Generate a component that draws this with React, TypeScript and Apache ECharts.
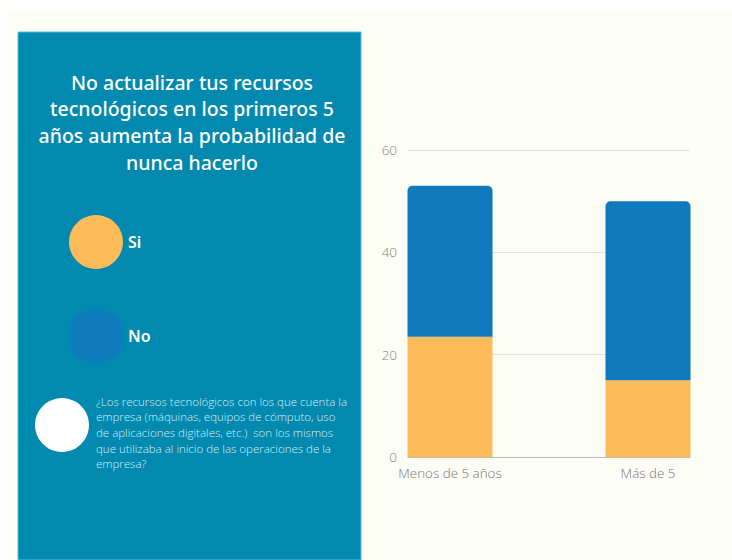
import React, { useEffect, useRef } from "react";
import * as echarts from "echarts";

const categories = ["Menos de 5 años", "Más de 5"];
const siValues = [23.5, 15];
const noValues = [29.5, 35];
const yTicks = [0, 20, 40, 60];
const titleLines = [
  "No actualizar tus recursos",
  "tecnológicos en los primeros 5",
  "años aumenta la probabilidad de",
  "nunca hacerlo",
];
const noteLines = [
  "¿Los recursos tecnológicos con los que cuenta la",
  "empresa (máquinas, equipos de cómputo, uso",
  "de aplicaciones digitales, etc.)  son los mismos",
  "que utilizaba al inicio de las operaciones de la",
  "empresa?",
];
const legendNames = ["Si", "No"];

const SI_COLOR = "#FDBB59";
const NO_COLOR = "#0F7BBD";

export default function App() {
  const ref = useRef<HTMLDivElement>(null);
  useEffect(() => {
    if (!ref.current) return;
    const chart = echarts.init(ref.current, undefined, { renderer: "svg" });
    const option: any = {
      animation: false,
      backgroundColor: "#ffffff",
      graphic: [
        { type: "rect", shape: { x: 7, y: 10, width: 725, height: 550 }, style: { fill: "#FCFDF5" }, z: -10 },
        {
          type: "rect",
          shape: { x: 18, y: 32, width: 343, height: 528 },
          style: { fill: "#0189AF", stroke: "#52C3DC", lineWidth: 1 },
          z: -9,
        },
        ...titleLines.map((t, i) => ({
          type: "text",
          x: 192,
          y: 82 + i * 26.7,
          style: {
            text: t,
            fill: "#ffffff",
            font: "500 19.5px 'Noto Sans', sans-serif",
            textAlign: "center",
            textVerticalAlign: "middle",
          },
        })),
        { type: "circle", shape: { cx: 96, cy: 242, r: 27 }, style: { fill: SI_COLOR } },
        { type: "circle", shape: { cx: 96, cy: 336, r: 27 }, style: { fill: NO_COLOR } },
        { type: "circle", shape: { cx: 62, cy: 425, r: 27 }, style: { fill: "#ffffff" } },
        ...legendNames.map((t, i) => ({
          type: "text",
          x: 128,
          y: 242 + i * 94,
          style: {
            text: t,
            fill: "#ffffff",
            font: "600 16px 'Noto Sans', sans-serif",
            textAlign: "left",
            textVerticalAlign: "middle",
          },
        })),
        ...noteLines.map((t, i) => ({
          type: "text",
          x: 96,
          y: 401 + i * 15.7,
          style: {
            text: t,
            fill: "#DAF0F6",
            font: "300 11.5px 'Open Sans', sans-serif",
            textAlign: "left",
            textVerticalAlign: "middle",
          },
        })),
      ],
      grid: [
        { left: 408, width: 282, top: 150, bottom: 103 },
        { left: 450, width: 198, top: 150, bottom: 103 },
      ],
      xAxis: [
        {
          gridIndex: 0,
          type: "category",
          data: categories,
          axisLine: { show: true, lineStyle: { color: "#BDBDBD", width: 1 } },
          axisTick: { show: false },
          axisLabel: { show: false },
        },
        {
          gridIndex: 1,
          type: "category",
          boundaryGap: false,
          data: categories,
          axisLine: { show: false },
          axisTick: { show: false },
          axisLabel: {
            color: "#767676",
            fontSize: 13.4,
            fontWeight: 300,
            fontFamily: "'Open Sans', sans-serif",
            margin: 9,
          },
        },
      ],
      yAxis: [
        {
          gridIndex: 0,
          type: "value",
          min: yTicks[0],
          max: yTicks[yTicks.length - 1],
          interval: 20,
          axisLine: { show: false },
          axisTick: { show: false },
          axisLabel: {
            color: "#7E7E7E",
            fontSize: 13.4,
            fontWeight: 300,
            fontFamily: "'Open Sans', sans-serif",
            margin: 11,
          },
          splitLine: { lineStyle: { color: "#E4E4DE", width: 1 } },
        },
        {
          gridIndex: 1,
          type: "value",
          min: yTicks[0],
          max: yTicks[yTicks.length - 1],
          interval: 20,
          show: false,
          splitLine: { show: false },
        },
      ],
      series: [
        {
          name: "Si",
          type: "bar",
          xAxisIndex: 1,
          yAxisIndex: 1,
          stack: "total",
          barWidth: 85,
          data: siValues,
          itemStyle: { color: SI_COLOR },
        },
        {
          name: "No",
          type: "bar",
          xAxisIndex: 1,
          yAxisIndex: 1,
          stack: "total",
          barWidth: 85,
          data: noValues,
          itemStyle: { color: NO_COLOR, borderRadius: [5, 5, 0, 0] },
        },
      ],
    };
    chart.setOption(option);
    return () => chart.dispose();
  }, []);
  return (
    <div
      ref={ref}
      style={{ position: "fixed", left: 0, top: 0, width: 732, height: 560 }}
    />
  );
}
